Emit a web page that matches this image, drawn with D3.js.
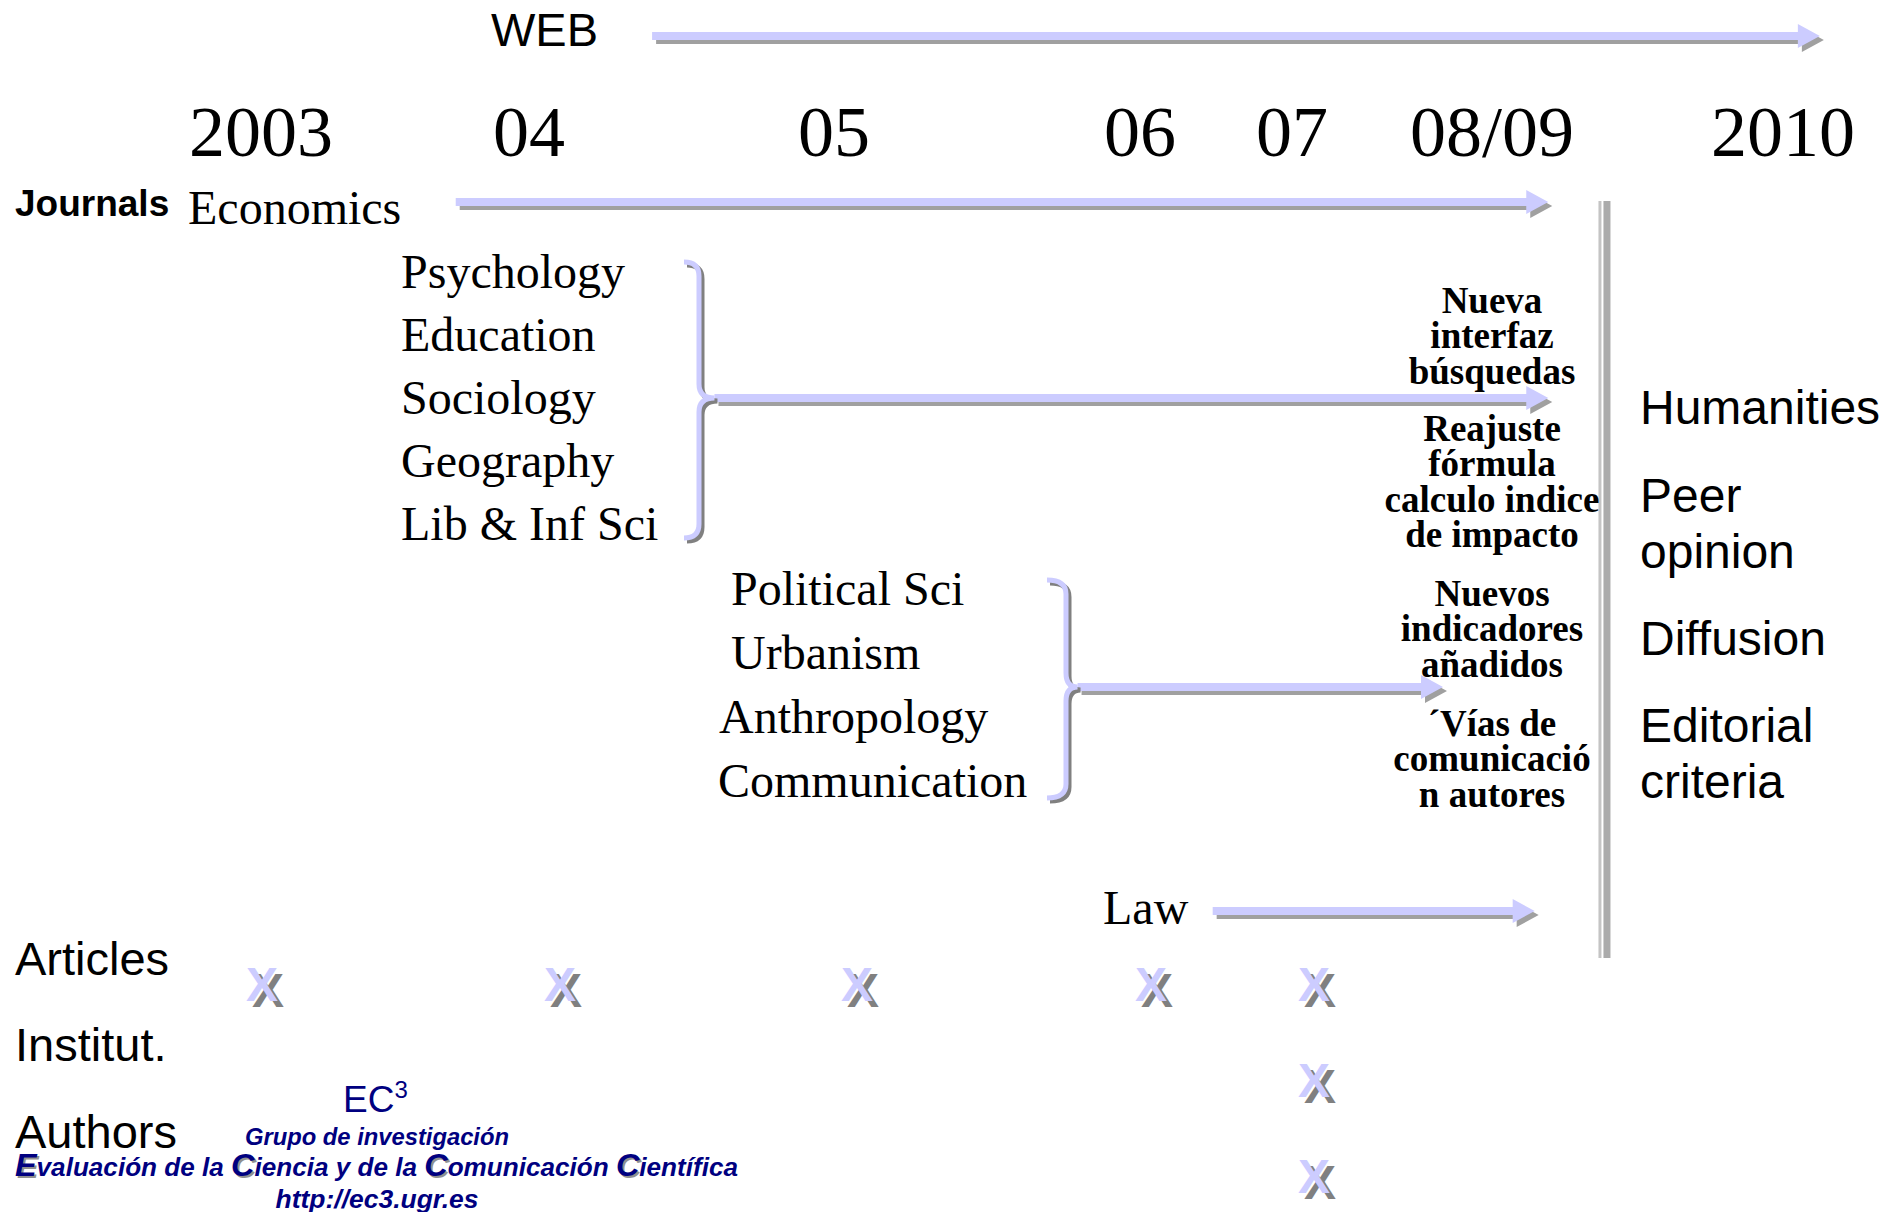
<!DOCTYPE html>
<html>
<head>
<meta charset="utf-8">
<script src="https://cdn.jsdelivr.net/npm/d3@7"></script>
<style>
  body { margin: 0; background: #fff; }
  .serif { font-family: "Liberation Serif", "Times New Roman", serif; }
  .sans { font-family: "Liberation Sans", Arial, sans-serif; }
</style>
</head>
<body>
<div id="main-chart"></div>
<script>
// timeline ticks
var years = [2003, 2004, 2005, 2006, 2007, 2008.5, 2010];
var yearLabels = ["2003", "04", "05", "06", "07", "08/09", "2010"];

// where each arrow starts and stops, in years
var arrowNames = ["WEB", "Economics", "groupA", "groupB", "Law"];
var arrowFrom = [2004.30, 2003.64, 2004.51, 2005.74, 2006.36];
var arrowTo = [2010.19, 2008.79, 2008.79, 2008.08, 2008.72];

var groupA = ["Psychology", "Education", "Sociology", "Geography", "Lib & Inf Sci"];
var groupB = ["Political Sci", "Urbanism", "Anthropology", "Communication"];

var changes = [
  ["Nueva", "interfaz", "búsquedas"],
  ["Reajuste", "fórmula", "calculo indice", "de impacto"],
  ["Nuevos", "indicadores", "añadidos"],
  ["´Vías de", "comunicació", "n autores"]
];
var criteria = [["Humanities"], ["Peer", "opinion"], ["Diffusion"], ["Editorial", "criteria"]];

var rowLabels = ["Articles", "Institut.", "Authors"];
var articleYears = [2003, 2004, 2005, 2006, 2007];
var institutYears = [2007];
var authorYears = [2007];
var separatorYear = 2009.09;

var W = 1901, H = 1212;
var blue = "#ccccff", shade = "#a0a0a0";

var svg = d3.select("#main-chart")
  .append("svg")
    .attr("width", W)
    .attr("height", H);

var x = d3.scaleLinear()
  .domain(years)
  .range([265, 563, 860, 1154, 1317, 1492, 1783]);

// year labels (slide placed them a little left of the marks)
var labelShift = [-4, -34, -26, -14, -25, 0, 0];
svg.selectAll(".year")
  .data(yearLabels)
  .enter().append("text")
    .attr("class", "year serif")
    .attr("x", function(d, i) { return x(years[i]) + labelShift[i]; })
    .attr("y", 156)
    .attr("text-anchor", "middle")
    .style("font-size", "72px")
    .text(function(d) { return d; });

// arrows
var arrowY = [36, 202, 398, 687, 911];
function arrowPath(x0, x1, y) {
  var bh = 4, hh = 12, hl = 22;
  return "M" + x0 + "," + (y - bh) + "L" + (x1 - hl) + "," + (y - bh) +
    "L" + (x1 - hl) + "," + (y - hh) + "L" + x1 + "," + y +
    "L" + (x1 - hl) + "," + (y + hh) + "L" + (x1 - hl) + "," + (y + bh) +
    "L" + x0 + "," + (y + bh) + "Z";
}
var arrows = svg.selectAll(".arrow")
  .data(arrowNames)
  .enter().append("g")
    .attr("class", "arrow");
arrows.append("path")
    .attr("transform", "translate(4,4)")
    .attr("fill", shade)
    .attr("d", function(d, i) { return arrowPath(x(arrowFrom[i]), x(arrowTo[i]), arrowY[i]); });
arrows.append("path")
    .attr("fill", blue)
    .attr("d", function(d, i) { return arrowPath(x(arrowFrom[i]), x(arrowTo[i]), arrowY[i]); });

// braces
function bracePath(x0, xs, xt, y0, ym, y1) {
  var r = 14;
  return "M" + x0 + "," + y0 + "Q" + xs + "," + y0 + " " + xs + "," + (y0 + r) +
    "L" + xs + "," + (ym - r) + "Q" + xs + "," + ym + " " + xt + "," + ym +
    "Q" + xs + "," + ym + " " + xs + "," + (ym + r) +
    "L" + xs + "," + (y1 - r) + "Q" + xs + "," + y1 + " " + x0 + "," + y1;
}
var braces = [
  {x0: 684, xs: 699, y0: 262, y1: 538, ym: arrowY[2], from: arrowFrom[2]},
  {x0: 1047, xs: 1066, y0: 580, y1: 798, ym: arrowY[3], from: arrowFrom[3]}
];
braces.forEach(function(b) {
  var d = bracePath(b.x0, b.xs, x(b.from), b.y0, b.ym, b.y1);
  svg.append("path").attr("d", d).attr("transform", "translate(3,3)")
    .attr("fill", "none").attr("stroke", "#808080").attr("stroke-width", 5);
  svg.append("path").attr("d", d)
    .attr("fill", "none").attr("stroke", blue).attr("stroke-width", 5);
});

// separator
var sx = x(separatorYear);
svg.append("rect").attr("x", sx - 8).attr("y", 201).attr("width", 3).attr("height", 757).attr("fill", "#c4c4c4");
svg.append("rect").attr("x", sx - 3).attr("y", 201).attr("width", 7).attr("height", 757).attr("fill", "#ababab");

// labels
svg.append("text").attr("class", "sans").attr("x", 491).attr("y", 46)
  .style("font-size", "47px").text("WEB");
svg.append("text").attr("class", "sans").attr("x", 15).attr("y", 216)
  .style("font-size", "37px").style("font-weight", "bold").text("Journals");
svg.append("text").attr("class", "serif").attr("x", 188).attr("y", 224)
  .style("font-size", "48px").text("Economics");
svg.append("text").attr("class", "serif").attr("x", 1103).attr("y", 924)
  .style("font-size", "48px").text("Law");

svg.selectAll(".ga")
  .data(groupA)
  .enter().append("text")
    .attr("class", "ga serif")
    .attr("x", 401)
    .attr("y", function(d, i) { return 288 + i * 63; })
    .style("font-size", "48px")
    .text(function(d) { return d; });

var gbX = [731, 731, 719, 718];
svg.selectAll(".gb")
  .data(groupB)
  .enter().append("text")
    .attr("class", "gb serif")
    .attr("x", function(d, i) { return gbX[i]; })
    .attr("y", function(d, i) { return 605 + i * 64; })
    .style("font-size", "48px")
    .text(function(d) { return d; });

// changes column
var changeTop = [313, 441, 606, 736];
changes.forEach(function(lines, k) {
  svg.append("text")
    .attr("class", "serif")
    .attr("text-anchor", "middle")
    .style("font-size", "37px")
    .style("font-weight", "bold")
    .selectAll("tspan")
    .data(lines)
    .enter().append("tspan")
      .attr("x", x(2008.5))
      .attr("y", function(d, i) { return changeTop[k] + i * 35.3; })
      .text(function(d) { return d; });
});

// criteria column
var critTop = [424, 512, 655, 742];
criteria.forEach(function(lines, k) {
  svg.append("text")
    .attr("class", "sans")
    .style("font-size", "48px")
    .selectAll("tspan")
    .data(lines)
    .enter().append("tspan")
      .attr("x", 1640)
      .attr("y", function(d, i) { return critTop[k] + i * 56; })
      .text(function(d) { return d; });
});

// rows with X marks
var rowY = [1001, 1097, 1193];
svg.selectAll(".row")
  .data(rowLabels)
  .enter().append("text")
    .attr("class", "row sans")
    .attr("x", 15)
    .attr("y", function(d, i) { return [975, 1061, 1148][i]; })
    .style("font-size", "47px")
    .text(function(d) { return d; });

var marks = [];
[articleYears, institutYears, authorYears].forEach(function(ys, r) {
  ys.forEach(function(y) { marks.push({year: y, row: r}); });
});
[{dx: 6, fill: "#808080"}, {dx: 0, fill: blue}].forEach(function(layer) {
  svg.selectAll(".mark" + layer.dx)
    .data(marks)
    .enter().append("text")
      .attr("class", "sans")
      .attr("x", function(d) { return x(d.year) - 3 + layer.dx; })
      .attr("y", function(d) { return rowY[d.row] + layer.dx; })
      .attr("text-anchor", "middle")
      .style("font-size", "48px")
      .style("font-weight", "bold")
      .attr("fill", layer.fill)
      .text("X");
});

// EC3 logo
var navy = "#000080";
var ec = svg.append("text").attr("class", "sans").attr("x", 343).attr("y", 1112)
  .style("font-size", "37px").attr("fill", navy);
ec.append("tspan").text("EC");
ec.append("tspan").attr("dy", -14).style("font-size", "24px").text("3");

svg.append("text").attr("class", "sans").attr("x", 377).attr("y", 1145)
  .attr("text-anchor", "middle")
  .attr("textLength", 264).attr("lengthAdjust", "spacingAndGlyphs")
  .style("font-size", "24px").style("font-weight", "bold").style("font-style", "italic")
  .attr("fill", navy).text("Grupo de investigación");

var evalParts = [["E", 1], ["valuación de la ", 0], ["C", 1], ["iencia y de la ", 0],
  ["C", 1], ["omunicación ", 0], ["C", 1], ["ientífica", 0]];
[{d: 2, big: "#909090", small: "none"}, {d: 0, big: navy, small: navy}].forEach(function(layer) {
  svg.append("text").attr("class", "sans")
    .attr("x", 15 + layer.d).attr("y", 1176 + layer.d)
    .attr("textLength", 723).attr("lengthAdjust", "spacingAndGlyphs")
    .style("font-size", "25px").style("font-weight", "bold").style("font-style", "italic")
    .selectAll("tspan")
    .data(evalParts)
    .enter().append("tspan")
      .style("font-size", function(d) { return d[1] ? "31px" : "25px"; })
      .attr("fill", function(d) { return d[1] ? layer.big : layer.small; })
      .text(function(d) { return d[0]; });
});

svg.append("text").attr("class", "sans").attr("x", 377).attr("y", 1208)
  .attr("text-anchor", "middle")
  .attr("textLength", 203).attr("lengthAdjust", "spacingAndGlyphs")
  .style("font-size", "25px").style("font-weight", "bold").style("font-style", "italic")
  .attr("fill", navy).text("http://ec3.ugr.es");
</script>
</body>
</html>
